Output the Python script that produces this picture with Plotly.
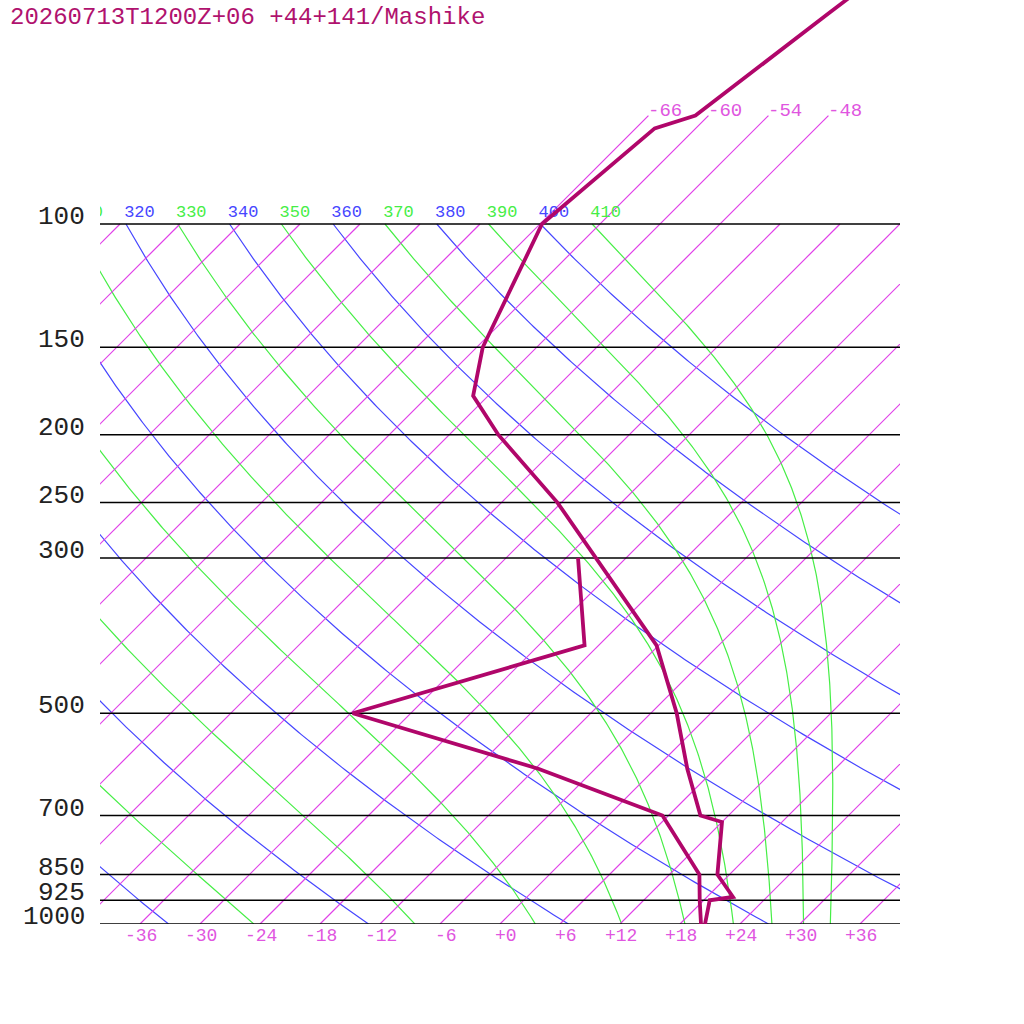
import numpy as np
import plotly.graph_objects as go

# ---------------- data ----------------
title_text = "20260713T1200Z+06 +44+141/Mashike"

temp_pressure = [1000, 925, 915, 850, 715, 700, 600, 500, 400, 300, 250, 200, 176, 150, 100, 73, 70, 50, 30]
temp_values = [20.5, 18.6, 20.6, 16.8, 12.0, 9.2, 3.2, -3.4, -12.2, -27.0, -36.4, -49.1, -55.5, -59.4, -65.8, -64.1, -61.3, -58.2, -53.3]

dew_pressure = [1000, 925, 850, 700, 600, 500, 400, 300]
dew_values = [20.1, 17.6, 15.0, 5.4, -11.7, -35.8, -19.4, -28.8]

isobar_levels = [100, 150, 200, 250, 300, 500, 700, 850, 925, 1000]
isobar_labels = ["100", "150", "200", "250", "300", "500", "700", "850", "925", "1000"]

temp_ticks = [-36, -30, -24, -18, -12, -6, 0, 6, 12, 18, 24, 30, 36]
temp_tick_labels = ["-36", "-30", "-24", "-18", "-12", "-6", "+0", "+6", "+12", "+18", "+24", "+30", "+36"]

isotherm_values = list(range(-108, 37, 6))
isotherm_top_labelled = [-66, -60, -54, -48]

dry_thetas = [240, 260, 280, 300, 320, 340, 360, 380, 400]
moist_thetas = [250, 270, 290, 310, 330, 350, 370, 390, 410]

# ---------------- styling / geometry ----------------
SKEW = 70.0          # degrees of skew per decade of pressure
KAPPA = 0.2857
RD, CP, LV, EPS = 287.04, 1005.7, 2.501e6, 0.622
FONT = "Liberation Mono"
C_PROFILE = "#b0066a"
C_ISO = "#e040e8"
C_ISO_TXT = "#e055e0"
C_DRY = "#4646ff"
C_MOIST = "#46ee46"


def skew_x(t, p):
    return np.asarray(t, dtype=float) + SKEW * np.log10(1000.0 / np.asarray(p, dtype=float))


def moist_rate(p, T):
    tc = T - 273.15
    es = 6.112 * np.exp(17.67 * tc / (tc + 243.5))
    rs = EPS * es / (p - es)
    return (RD * T + LV * rs) / (p * (CP + LV * LV * rs * EPS / (RD * T * T)))


def moist_adiabat(theta, ps):
    T = theta * (ps[0] / 1000.0) ** KAPPA
    out = [T]
    for i in range(1, len(ps)):
        p0, p1 = ps[i - 1], ps[i]
        h = p1 - p0
        k1 = moist_rate(p0, T)
        k2 = moist_rate(p0 + h / 2, T + h / 2 * k1)
        k3 = moist_rate(p0 + h / 2, T + h / 2 * k2)
        k4 = moist_rate(p1, T + h * k3)
        T = T + h * (k1 + 2 * k2 + 2 * k3 + k4) / 6
        out.append(T)
    return np.array(out) - 273.15


fig = go.Figure()

ps_curve = np.logspace(2, 3, 300)
# dry adiabats
dx, dy = [], []
for th in dry_thetas:
    tc = th * (ps_curve / 1000.0) ** KAPPA - 273.15
    dx += [float(v) for v in skew_x(tc, ps_curve)] + [None]
    dy += [float(v) for v in ps_curve] + [None]
fig.add_trace(go.Scatter(x=dx, y=dy, mode="lines", connectgaps=False,
                         line=dict(color=C_DRY, width=1.2), hoverinfo="skip"))
# moist adiabats
mx, my = [], []
for th in moist_thetas:
    tc = moist_adiabat(th, ps_curve)
    mx += [float(v) for v in skew_x(tc, ps_curve)] + [None]
    my += [float(v) for v in ps_curve] + [None]
fig.add_trace(go.Scatter(x=mx, y=my, mode="lines", connectgaps=False,
                         line=dict(color=C_MOIST, width=1.2), hoverinfo="skip"))

# isotherms (sampled along pressure, one trace with gaps)
iso_x, iso_y = [], []
for t in isotherm_values:
    ptop = 70 if t in isotherm_top_labelled else 100
    ps = list(np.logspace(np.log10(ptop), 3, 60))
    iso_x += [float(v) for v in skew_x([t] * len(ps), ps)] + [None]
    iso_y += [float(v) for v in ps] + [None]
fig.add_trace(go.Scatter(x=iso_x, y=iso_y, mode="lines", connectgaps=False,
                         line=dict(color=C_ISO, width=1.2), hoverinfo="skip"))

# isobars
bx, by = [], []
for p in isobar_levels:
    bx += [-40, 40, None]
    by += [p, p, None]
fig.add_trace(go.Scatter(x=bx, y=by, mode="lines", connectgaps=False,
                         line=dict(color="black", width=1.5), hoverinfo="skip"))

# adiabat labels at 100 hPa (clipped to plot area)
lab_x, lab_t, lab_c = [], [], []
for th in sorted(dry_thetas + moist_thetas):
    x0 = float(skew_x(th * 0.1 ** KAPPA - 273.15, 100))
    if x0 + 3.1 < -40:
        continue
    lab_x.append(x0 + 1.35)
    lab_t.append(str(th))
    lab_c.append(C_DRY if th in dry_thetas else C_MOIST)
fig.add_trace(go.Scatter(x=lab_x, y=[96.45] * len(lab_x), mode="text", text=lab_t,
                         textposition="middle center", cliponaxis=True,
                         textfont=dict(family=FONT, size=17, color=lab_c), hoverinfo="skip"))

# sounding profile
fig.add_trace(go.Scatter(x=skew_x(dew_values, dew_pressure), y=dew_pressure, mode="lines",
                         line=dict(color=C_PROFILE, width=3.8), hoverinfo="skip"))
fig.add_trace(go.Scatter(x=skew_x(temp_values, temp_pressure), y=temp_pressure, mode="lines",
                         line=dict(color=C_PROFILE, width=3.8), hoverinfo="skip"))

annotations = []
# pressure labels
for p, lab in zip(isobar_levels, isobar_labels):
    annotations.append(dict(x=(87 - 100) / 800.0, xref="paper", y=np.log10(p), yref="y",
                            text=lab, showarrow=False, xanchor="right", yanchor="middle",
                            yshift=7, font=dict(family=FONT, size=26, color="#222222")))
# temperature tick labels
for t, lab in zip(temp_ticks, temp_tick_labels):
    annotations.append(dict(x=t, xref="x", y=(924 - 936) / 924.0, yref="paper", text=lab,
                            showarrow=False, xanchor="right", yanchor="middle", xshift=19,
                            font=dict(family=FONT, size=18, color=C_ISO_TXT)))
# labels on top of extended isotherms
for t in isotherm_top_labelled:
    annotations.append(dict(x=float(skew_x(t, 70)), xref="x", y=np.log10(70), yref="y",
                            text="%d" % t, showarrow=False, xanchor="left", yanchor="middle",
                            xshift=-2, yshift=5, font=dict(family=FONT, size=19, color=C_ISO_TXT)))
# title
annotations.append(dict(x=(8 - 100) / 800.0, xref="paper", y=(924 - 17) / 924.0, yref="paper",
                        text=title_text, showarrow=False, xanchor="left", yanchor="middle",
                        font=dict(family=FONT, size=24, color="#b0126e")))

fig.update_layout(
    width=1024, height=1024,
    margin=dict(l=100, r=124, t=0, b=100, pad=0),
    paper_bgcolor="white", plot_bgcolor="white",
    showlegend=False,
    xaxis=dict(range=[-40, 40], visible=False, showgrid=False, zeroline=False),
    yaxis=dict(type="log", range=[3, 3 - 924 / 700.0], visible=False, showgrid=False, zeroline=False),
    annotations=annotations,
)

fig.write_html("out.html", config={"displayModeBar": False},
               post_script="document.body.style.margin='0px';")
